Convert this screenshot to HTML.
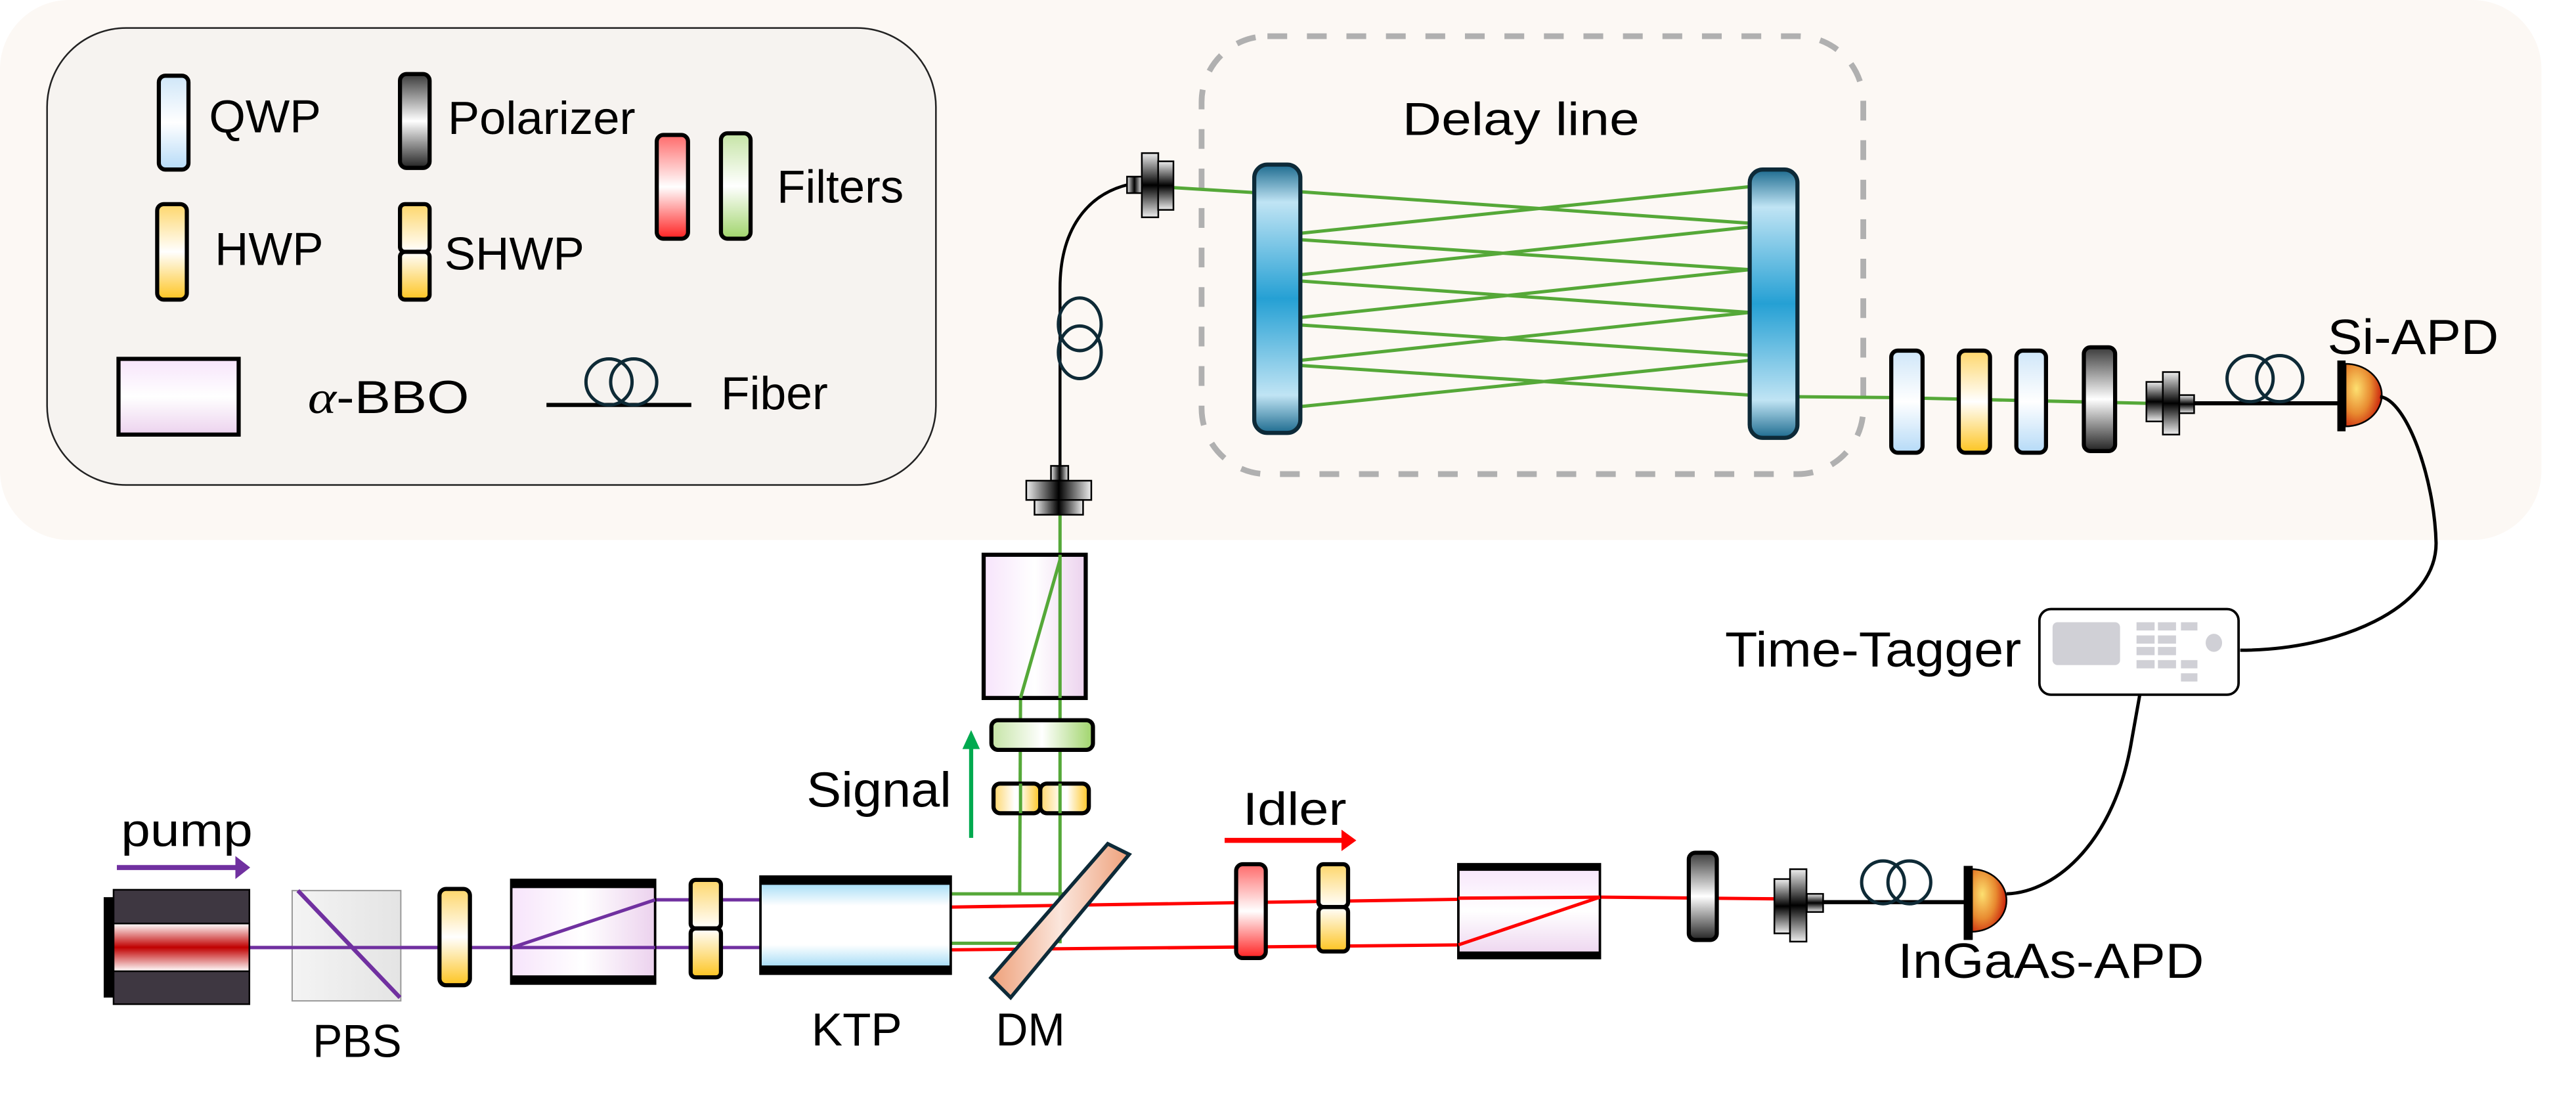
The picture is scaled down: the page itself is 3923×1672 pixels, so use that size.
<!DOCTYPE html>
<html><head><meta charset="utf-8"><style>html,body{margin:0;padding:0;background:#fff}svg{display:block}text{font-family:"Liberation Sans",Arial,sans-serif;fill:#000}</style></head><body>
<svg width="3923" height="1672" viewBox="0 0 1565 667" preserveAspectRatio="none" xmlns="http://www.w3.org/2000/svg">
<defs>
<linearGradient id="qwp" x1="0" y1="0" x2="0" y2="1"><stop offset="0" stop-color="#cfe6f8"/><stop offset=".5" stop-color="#fff"/><stop offset="1" stop-color="#b5daf7"/></linearGradient>
<linearGradient id="hwp" x1="0" y1="0" x2="0" y2="1"><stop offset="0" stop-color="#fed66a"/><stop offset=".5" stop-color="#fff"/><stop offset="1" stop-color="#fdc41f"/></linearGradient>
<linearGradient id="hwpa" x1="0" y1="0" x2="0" y2="1"><stop offset="0" stop-color="#fed66a"/><stop offset="1" stop-color="#fff"/></linearGradient>
<linearGradient id="hwpb" x1="0" y1="0" x2="0" y2="1"><stop offset="0" stop-color="#fff"/><stop offset="1" stop-color="#fdc41f"/></linearGradient>
<linearGradient id="hwph" x1="0" y1="0" x2="1" y2="0"><stop offset="0" stop-color="#fed66a"/><stop offset=".45" stop-color="#fff"/><stop offset=".55" stop-color="#fff"/><stop offset="1" stop-color="#fdc41f"/></linearGradient>
<linearGradient id="pol" x1="0" y1="0" x2="0" y2="1"><stop offset="0" stop-color="#3a3a3a"/><stop offset=".5" stop-color="#fff"/><stop offset="1" stop-color="#222"/></linearGradient>
<linearGradient id="red" x1="0" y1="0" x2="0" y2="1"><stop offset="0" stop-color="#ff6a6a"/><stop offset=".5" stop-color="#fff"/><stop offset="1" stop-color="#ff2020"/></linearGradient>
<linearGradient id="grn" x1="0" y1="0" x2="0" y2="1"><stop offset="0" stop-color="#c5e4a5"/><stop offset=".5" stop-color="#fff"/><stop offset="1" stop-color="#9fd46a"/></linearGradient>
<linearGradient id="grnh" x1="0" y1="0" x2="1" y2="0"><stop offset="0" stop-color="#c5e4a5"/><stop offset=".5" stop-color="#fff"/><stop offset="1" stop-color="#9fd46a"/></linearGradient>
<linearGradient id="bbo" x1="0" y1="0" x2="0" y2="1"><stop offset="0" stop-color="#f7e4fb"/><stop offset=".5" stop-color="#fff"/><stop offset="1" stop-color="#ecd2ee"/></linearGradient>
<linearGradient id="bboh" x1="0" y1="0" x2="1" y2="0"><stop offset="0" stop-color="#f7e4fb"/><stop offset=".5" stop-color="#fff"/><stop offset="1" stop-color="#ecd2ee"/></linearGradient>
<linearGradient id="ktp" x1="0" y1="0" x2="0" y2="1"><stop offset="0" stop-color="#8ad2f3"/><stop offset=".3" stop-color="#fff"/><stop offset=".7" stop-color="#fff"/><stop offset="1" stop-color="#8ad2f3"/></linearGradient>
<linearGradient id="mir" x1="0" y1="0" x2="0" y2="1"><stop offset="0" stop-color="#1d6b8f"/><stop offset=".14" stop-color="#c0e4f4"/><stop offset=".5" stop-color="#25a0d4"/><stop offset=".86" stop-color="#c0e4f4"/><stop offset="1" stop-color="#1d6b8f"/></linearGradient>
<linearGradient id="las" x1="0" y1="0" x2="0" y2="1"><stop offset="0" stop-color="#fff"/><stop offset=".5" stop-color="#c00000"/><stop offset="1" stop-color="#fff"/></linearGradient>
<linearGradient id="pbs" x1="0" y1="0" x2="1" y2="0"><stop offset="0" stop-color="#f4f4f4"/><stop offset="1" stop-color="#e4e4e4"/></linearGradient>
<linearGradient id="dm" x1="0" y1="0" x2="1" y2="0"><stop offset="0" stop-color="#eea07a"/><stop offset=".5" stop-color="#fbe6dc"/><stop offset="1" stop-color="#eea07a"/></linearGradient>
<linearGradient id="cpl" x1="0" y1="0" x2="0" y2="1"><stop offset="0" stop-color="#eee"/><stop offset=".5" stop-color="#000"/><stop offset="1" stop-color="#eee"/></linearGradient>
<linearGradient id="cplh" x1="0" y1="0" x2="1" y2="0"><stop offset="0" stop-color="#eee"/><stop offset=".5" stop-color="#000"/><stop offset="1" stop-color="#eee"/></linearGradient>
<radialGradient id="apd" cx=".3" cy=".4" r=".8"><stop offset="0" stop-color="#fde070"/><stop offset=".5" stop-color="#e88a30"/><stop offset="1" stop-color="#c00000"/></radialGradient>
</defs>
<rect x="0" y="0" width="1544" height="328" rx="42" fill="#fcf8f4"/>
<rect x="28.6" y="17" width="540" height="277.6" rx="48" fill="#f6f3f0" stroke="#222" stroke-width="1"/>
<!-- legend -->
<rect x="96.5" y="46" width="18" height="57" rx="4" fill="url(#qwp)" stroke="#000" stroke-width="2.5"/>
<text x="127" y="80.4" font-size="28" textLength="68" lengthAdjust="spacingAndGlyphs">QWP</text>
<rect x="243" y="45" width="18" height="57" rx="4" fill="url(#pol)" stroke="#000" stroke-width="2.5"/>
<text x="272" y="81.3" font-size="28" textLength="114" lengthAdjust="spacingAndGlyphs">Polarizer</text>
<rect x="399" y="82" width="19" height="63" rx="4" fill="url(#red)" stroke="#000" stroke-width="2.5"/>
<rect x="438" y="81" width="18" height="64" rx="4" fill="url(#grn)" stroke="#000" stroke-width="2.5"/>
<text x="472" y="123" font-size="28" textLength="77" lengthAdjust="spacingAndGlyphs">Filters</text>
<rect x="95.5" y="124" width="18" height="58" rx="4" fill="url(#hwp)" stroke="#000" stroke-width="2.5"/>
<text x="130.5" y="161" font-size="28" textLength="66" lengthAdjust="spacingAndGlyphs">HWP</text>
<rect x="243" y="124" width="18" height="29" rx="3" fill="url(#hwpa)" stroke="#000" stroke-width="2.5"/>
<rect x="243" y="153" width="18" height="29" rx="3" fill="url(#hwpb)" stroke="#000" stroke-width="2.5"/>
<text x="270" y="163.7" font-size="28" textLength="85" lengthAdjust="spacingAndGlyphs">SHWP</text>
<rect x="72" y="218" width="73" height="46" fill="url(#bbo)" stroke="#000" stroke-width="2.5"/>
<text x="187" y="251" font-size="28" textLength="98" lengthAdjust="spacingAndGlyphs"><tspan font-family="Liberation Serif" font-style="italic">α</tspan>-BBO</text>
<line x1="332" y1="246" x2="420" y2="246" stroke="#000" stroke-width="2.5"/>
<ellipse cx="370" cy="232" rx="14" ry="14" fill="none" stroke="#0e2a36" stroke-width="2"/>
<ellipse cx="385" cy="232" rx="14" ry="14" fill="none" stroke="#0e2a36" stroke-width="2"/>
<text x="438" y="248.6" font-size="28" textLength="65" lengthAdjust="spacingAndGlyphs">Fiber</text>
<!-- delay line -->
<rect x="730" y="22" width="402" height="266" rx="40" fill="none" stroke="#b0b0b0" stroke-width="3.5" stroke-dasharray="12,12"/>
<text x="852" y="82" font-size="28" textLength="144" lengthAdjust="spacingAndGlyphs">Delay line</text>
<g stroke="#55a838" stroke-width="2" fill="none">
<line x1="713" y1="114" x2="762" y2="117"/>
<line x1="790" y1="116.5" x2="1063" y2="135.6"/>
<line x1="790" y1="141.7" x2="1063" y2="113.4"/>
<line x1="790" y1="145.6" x2="1063" y2="163.8"/>
<line x1="790" y1="166.9" x2="1063" y2="137.9"/>
<line x1="790" y1="170.7" x2="1063" y2="189.8"/>
<line x1="790" y1="192.9" x2="1063" y2="163.8"/>
<line x1="790" y1="197.4" x2="1063" y2="215.8"/>
<line x1="790" y1="218.9" x2="1063" y2="189.8"/>
<line x1="790" y1="222" x2="1063" y2="240"/>
<line x1="790" y1="247" x2="1063" y2="218.9"/>
<path d="M1092,241 L1149,241.5 L1304,245"/>
<line x1="644" y1="573" x2="644" y2="312"/>
<line x1="619.5" y1="543" x2="620" y2="424"/>
<line x1="620" y1="424" x2="644" y2="340"/>
<line x1="578" y1="543" x2="650" y2="543"/>
<line x1="578" y1="573" x2="622" y2="573"/>
</g>
<rect x="762" y="100" width="28" height="163" rx="8" fill="url(#mir)" stroke="#0d2a38" stroke-width="2.5"/>
<rect x="1063" y="103" width="29" height="163" rx="8" fill="url(#mir)" stroke="#0d2a38" stroke-width="2.5"/>
<path d="M644,283 L644,175 C644,140 660,118 686,112" fill="none" stroke="#000" stroke-width="1.8"/>
<ellipse cx="656" cy="197" rx="13" ry="16" fill="none" stroke="#0e2a36" stroke-width="2"/>
<ellipse cx="656" cy="214" rx="13" ry="16" fill="none" stroke="#0e2a36" stroke-width="2"/>
<rect x="684.7" y="107.3" width="9" height="10" fill="url(#cplh)" stroke="#000" stroke-width="1"/>
<rect x="693.7" y="93" width="10" height="39" fill="url(#cpl)" stroke="#000" stroke-width="1"/>
<rect x="703.6" y="98" width="9.3" height="29.5" fill="url(#cpl)" stroke="#000" stroke-width="1"/>
<rect x="638.5" y="283" width="10.5" height="9" fill="url(#cplh)" stroke="#000" stroke-width="1"/>
<rect x="623.5" y="292" width="39.5" height="11.7" fill="url(#cplh)" stroke="#000" stroke-width="1"/>
<rect x="628.5" y="303.7" width="29.5" height="9" fill="url(#cplh)" stroke="#000" stroke-width="1"/>
<rect x="1149" y="213" width="19" height="62" rx="4" fill="url(#qwp)" stroke="#000" stroke-width="2.5"/>
<rect x="1190" y="213" width="19" height="62" rx="4" fill="url(#hwp)" stroke="#000" stroke-width="2.5"/>
<rect x="1225" y="213" width="18" height="62" rx="4" fill="url(#qwp)" stroke="#000" stroke-width="2.5"/>
<rect x="1266" y="211" width="19" height="63" rx="4" fill="url(#pol)" stroke="#000" stroke-width="2.5"/>
<rect x="1304" y="232" width="10" height="24" fill="url(#cpl)" stroke="#000" stroke-width="1"/>
<rect x="1314" y="226" width="10" height="38" fill="url(#cpl)" stroke="#000" stroke-width="1"/>
<rect x="1324" y="240" width="9" height="11" fill="url(#cpl)" stroke="#000" stroke-width="1"/>
<line x1="1333" y1="245" x2="1422" y2="245" stroke="#000" stroke-width="2.5"/>
<circle cx="1367" cy="230" r="14" fill="none" stroke="#0e2a36" stroke-width="2"/>
<circle cx="1385" cy="230" r="14" fill="none" stroke="#0e2a36" stroke-width="2"/>
<path d="M1425,221 A22,19 0 0 1 1425,259 Z" fill="url(#apd)" stroke="#000" stroke-width="1"/>
<rect x="1420" y="219" width="5" height="43" fill="#000"/>
<text x="1414" y="215" font-size="30" textLength="104" lengthAdjust="spacingAndGlyphs">Si-APD</text>
<path d="M1446,241 C1462,243 1479,290 1480,330 C1480,370 1420,395 1361,395" fill="none" stroke="#000" stroke-width="2"/>
<rect x="1239" y="370" width="121" height="52" rx="7" fill="#fff" stroke="#000" stroke-width="1.5"/>
<rect x="1247" y="378" width="41" height="26" rx="3" fill="#d0d0d6"/>
<g fill="#d0d0d6">
<rect x="1298" y="378" width="11" height="5"/><rect x="1311" y="378" width="11" height="5"/><rect x="1325" y="378" width="10" height="5"/>
<rect x="1298" y="386" width="11" height="5"/><rect x="1311" y="386" width="11" height="5"/>
<rect x="1298" y="393" width="11" height="5"/><rect x="1311" y="393" width="11" height="5"/>
<rect x="1298" y="401" width="11" height="5"/><rect x="1311" y="401" width="11" height="5"/><rect x="1325" y="401" width="10" height="5"/>
<rect x="1325" y="409" width="10" height="5"/>
<ellipse cx="1345" cy="390.5" rx="5" ry="5.5"/>
</g>
<text x="1048" y="405" font-size="30" textLength="180" lengthAdjust="spacingAndGlyphs">Time-Tagger</text>
<path d="M1219,543 C1250,542 1285,510 1295,450 L1300,422" fill="none" stroke="#000" stroke-width="2"/>
<g fill="none" stroke-width="2">
<line x1="152" y1="575.6" x2="462" y2="575.6" stroke="#7030a0"/>
<line x1="398" y1="546.6" x2="462" y2="546.6" stroke="#7030a0"/>
<line x1="578" y1="551" x2="972" y2="545" stroke="#ff0000"/>
<line x1="578" y1="577" x2="886" y2="574" stroke="#ff0000"/>
<line x1="972" y1="545" x2="1078" y2="546" stroke="#ff0000"/>
</g>
<rect x="63" y="545" width="6" height="61" fill="#000"/>
<rect x="69" y="540.5" width="82.5" height="69.5" fill="#3e3741" stroke="#000" stroke-width="1"/>
<rect x="69" y="561" width="82.5" height="29" fill="url(#las)" stroke="#000" stroke-width="1"/>
<line x1="71" y1="527" x2="144" y2="527" stroke="#7030a0" stroke-width="3"/>
<polygon points="152,527 143,520 143,534" fill="#7030a0"/>
<text x="73.5" y="514" font-size="28" textLength="80" lengthAdjust="spacingAndGlyphs">pump</text>
<rect x="177.5" y="541" width="66" height="67" fill="url(#pbs)" stroke="#999" stroke-width="0.8"/>
<line x1="152" y1="575.6" x2="267" y2="575.6" stroke="#7030a0" stroke-width="2"/>
<line x1="181" y1="541" x2="243" y2="606" stroke="#7030a0" stroke-width="2.5"/>
<text x="190" y="642" font-size="28" textLength="54" lengthAdjust="spacingAndGlyphs">PBS</text>
<rect x="267" y="540" width="18.5" height="58.5" rx="4" fill="url(#hwp)" stroke="#000" stroke-width="2.5"/>
<rect x="310.6" y="534.5" width="87.4" height="63" fill="url(#bboh)" stroke="#000" stroke-width="1.5"/>
<rect x="310.6" y="534.5" width="87.4" height="5" fill="#000"/><rect x="310.6" y="592.5" width="87.4" height="5" fill="#000"/>
<line x1="311" y1="575.6" x2="398" y2="546.6" stroke="#7030a0" stroke-width="2"/>
<line x1="311" y1="575.6" x2="398" y2="575.6" stroke="#7030a0" stroke-width="2"/>
<rect x="419.6" y="534.5" width="18.4" height="29.5" rx="3" fill="url(#hwpa)" stroke="#000" stroke-width="2.5"/>
<rect x="419.6" y="564" width="18.4" height="29.7" rx="3" fill="url(#hwpb)" stroke="#000" stroke-width="2.5"/>
<rect x="462" y="532.5" width="115.6" height="59" fill="url(#ktp)" stroke="#000" stroke-width="1.5"/>
<rect x="462" y="532.5" width="115.6" height="5" fill="#000"/><rect x="462" y="586.5" width="115.6" height="5" fill="#000"/>
<text x="493" y="635" font-size="28" textLength="55" lengthAdjust="spacingAndGlyphs">KTP</text>
<polygon points="602,594 673,512.6 686,519 614,606" fill="url(#dm)" stroke="#0d2a38" stroke-width="2.2"/>
<text x="605" y="635" font-size="28" textLength="42" lengthAdjust="spacingAndGlyphs">DM</text>
<rect x="603.6" y="476" width="28.4" height="18" rx="4" fill="url(#hwph)" stroke="#000" stroke-width="2.5"/>
<rect x="632" y="476" width="29.5" height="18" rx="4" fill="url(#hwph)" stroke="#000" stroke-width="2.5"/>
<rect x="602.3" y="437.5" width="61.7" height="18" rx="4" fill="url(#grnh)" stroke="#000" stroke-width="2.5"/>
<line x1="620" y1="494" x2="620" y2="476" stroke="#55a838" stroke-width="2"/>
<line x1="644" y1="494" x2="644" y2="476" stroke="#55a838" stroke-width="2"/>
<rect x="597.6" y="337" width="62" height="87" fill="url(#bboh)" stroke="#000" stroke-width="2.5"/>
<line x1="620" y1="424" x2="644" y2="340" stroke="#55a838" stroke-width="2"/>
<line x1="644" y1="424" x2="644" y2="337" stroke="#55a838" stroke-width="2"/>
<line x1="590" y1="509" x2="590" y2="452" stroke="#00aa4f" stroke-width="2.5"/>
<polygon points="590,443.5 584.7,455 595.3,455" fill="#00aa4f"/>
<text x="490" y="490" font-size="30" textLength="88" lengthAdjust="spacingAndGlyphs">Signal</text>
<line x1="744" y1="510.5" x2="816" y2="510.5" stroke="#ff0000" stroke-width="3"/>
<polygon points="824,510.5 815,504 815,517" fill="#ff0000"/>
<text x="755" y="501" font-size="28" textLength="63" lengthAdjust="spacingAndGlyphs">Idler</text>
<rect x="751" y="525" width="18" height="57" rx="4" fill="url(#red)" stroke="#000" stroke-width="2.5"/>
<rect x="801" y="525" width="18" height="26" rx="3" fill="url(#hwpa)" stroke="#000" stroke-width="2.5"/>
<rect x="801" y="551" width="18" height="27" rx="3" fill="url(#hwpb)" stroke="#000" stroke-width="2.5"/>
<rect x="886" y="525" width="86" height="57" fill="url(#bbo)" stroke="#000" stroke-width="1.5"/>
<rect x="886" y="525" width="86" height="4" fill="#000"/><rect x="886" y="578" width="86" height="4" fill="#000"/>
<line x1="886" y1="574" x2="972" y2="545" stroke="#ff0000" stroke-width="2"/>
<line x1="886" y1="545.6" x2="972" y2="545" stroke="#ff0000" stroke-width="2"/>
<rect x="1026" y="518" width="17" height="53" rx="4" fill="url(#pol)" stroke="#000" stroke-width="2.5"/>
<rect x="1078" y="534" width="9.5" height="33" fill="url(#cpl)" stroke="#000" stroke-width="1"/>
<rect x="1087.5" y="528" width="10" height="44" fill="url(#cpl)" stroke="#000" stroke-width="1"/>
<rect x="1097.7" y="543" width="9.9" height="11" fill="url(#cpl)" stroke="#000" stroke-width="1"/>
<line x1="1107" y1="548" x2="1195" y2="548" stroke="#000" stroke-width="2.5"/>
<circle cx="1144" cy="536" r="13" fill="none" stroke="#0e2a36" stroke-width="2"/>
<circle cx="1160" cy="536" r="13" fill="none" stroke="#0e2a36" stroke-width="2"/>
<path d="M1198,528 A21,19 0 0 1 1198,566 Z" fill="url(#apd)" stroke="#000" stroke-width="1"/>
<rect x="1193" y="526" width="5.5" height="45" fill="#000"/>
<text x="1153" y="594" font-size="30" textLength="186" lengthAdjust="spacingAndGlyphs">InGaAs-APD</text>
</svg>
</body></html>
